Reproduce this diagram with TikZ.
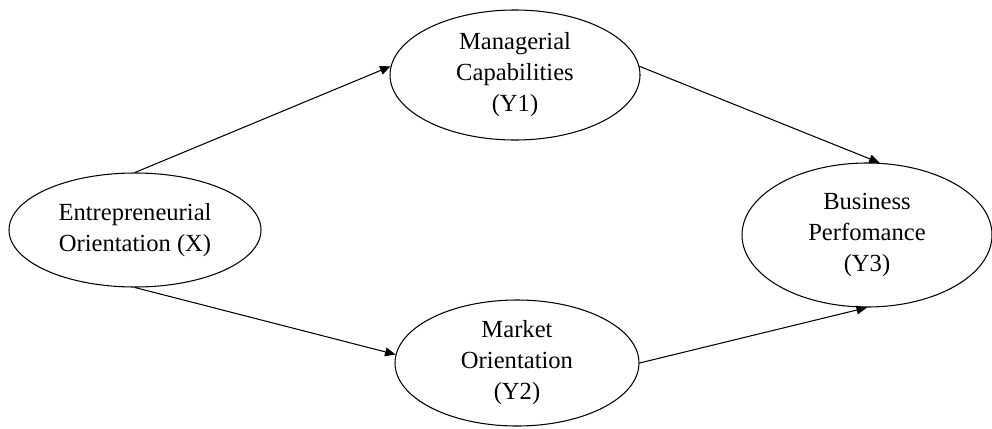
\documentclass[tikz,border=0pt]{standalone}
\usepackage{fontspec}
\setmainfont{Liberation Serif}
\usepackage{tikz}
\usetikzlibrary{shapes.geometric,arrows.meta}

\tikzset{
	var/.style={draw, ellipse, line width=0.6pt, inner sep=0pt, align=center,
		font=\fontsize{14}{17.6}\selectfont},
	path/.style={line width=0.6pt, -{Triangle[length=6pt,width=5pt]}}
}

\begin{document}
\begin{tikzpicture}
		\useasboundingbox (0,0) rectangle (19.84,8.56);
		% 四个变量
		\node[var, minimum width=5.04cm, minimum height=2.28cm] (EO) at (2.70,3.96) {Entrepreneurial\\Orientation (X)};
		\node[var, minimum width=5.00cm, minimum height=2.60cm] (MC) at (10.30,7.06) {Managerial\\Capabilities\\(Y1)};
		\node[var, minimum width=4.88cm, minimum height=2.52cm] (MO) at (10.34,1.30) {Market\\Orientation\\(Y2)};
		\node[var, minimum width=5.00cm, minimum height=2.88cm] (BP) at (17.34,3.86) {Business\\Perfomance\\(Y3)};
		% 路径
		\draw[path] (EO.north) -- (MC.176);
		\draw[path] (EO.south) -- (MO.176);
		\draw[path] (MC.4) -- (BP.80);
		\draw[path] (MO.east) -- (BP.south);
	\end{tikzpicture}
\end{document}
